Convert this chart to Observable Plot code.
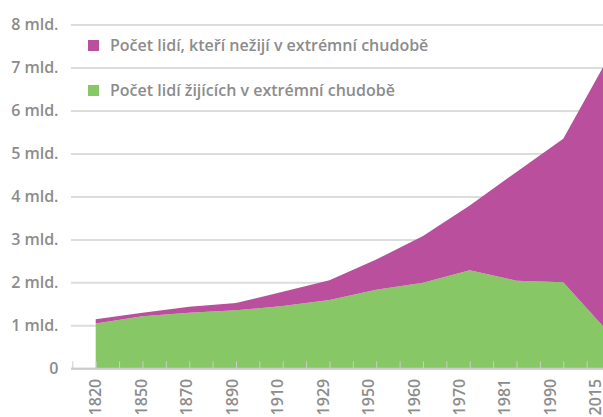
<!DOCTYPE html>
<html>
<head>
<meta charset="utf-8">
<script src="https://cdn.jsdelivr.net/npm/d3@7"></script>
<script src="https://cdn.jsdelivr.net/npm/@observablehq/plot@0.6"></script>
<style>
  html, body { margin: 0; padding: 0; background: white; overflow: hidden; }
  #wrap { position: relative; width: 603px; height: 417px; overflow: hidden; font-family: "Open Sans", sans-serif; }
  #legend { position: absolute; left: 88px; top: 0; }
  .item { position: absolute; left: 0; display: flex; align-items: center; white-space: nowrap; color: #8c8c8c; font-size: 16px; font-weight: 600; }
  .sw { width: 11px; height: 11px; margin-right: 11px; flex: none; }
</style>
</head>
<body>
<div id="wrap"></div>
<script>
const years = ["1820","1850","1870","1890","1910","1929","1950","1960","1970","1981","1990","2015"];
const inPoverty = [1.04, 1.21, 1.29, 1.35, 1.45, 1.59, 1.83, 1.99, 2.28, 2.04, 2.00, 0.80];
const notInPoverty = [0.10, 0.08, 0.14, 0.17, 0.33, 0.46, 0.70, 1.09, 1.51, 2.53, 3.34, 6.50];
const seriesNames = ["Počet lidí žijících v extrémní chudobě", "Počet lidí, kteří nežijí v extrémní chudobě"];
const seriesColors = ["#88c765", "#ba4f9e"];
const yTicks = [0, 1, 2, 3, 4, 5, 6, 7, 8];

const rows = [];
years.forEach((y, i) => {
  rows.push({i, series: seriesNames[0], value: inPoverty[i]});
  rows.push({i, series: seriesNames[1], value: notInPoverty[i]});
});
const halfTicks = d3.range(-0.5, 11, 0.5);
// label spacing in the original is slightly tighter than the category spacing
const labelStep = 0.9723;
const labelTicks = d3.range(12).map(i => i * labelStep);

const chart = Plot.plot({
  width: 603,
  height: 417,
  marginLeft: 71,
  marginRight: 0,
  marginTop: 24,
  marginBottom: 48.7,
  x: {type: "linear", domain: [0, 11], range: [95.7, 610], axis: null, label: null},
  y: {domain: [0, 8], range: [368.3, 24.5], axis: null, label: null},
  color: {domain: seriesNames, range: seriesColors},
  style: {fontFamily: "Open Sans, sans-serif", fontWeight: 600, overflow: "hidden", background: "white"},
  marks: [
    Plot.gridY(yTicks, {stroke: "#dcdcdc", strokeOpacity: 1, strokeWidth: 2}),
    Plot.areaY(rows, {x: "i", y: "value", fill: "series", order: seriesNames, curve: "linear"}),
    Plot.ruleY([0], {stroke: "#cccccc", strokeWidth: 2}),
    Plot.axisX({ticks: halfTicks, tickSize: -7, tickFormat: () => "", label: null, stroke: "#cccccc", strokeOpacity: 1}),
    Plot.axisX({ticks: labelTicks, tickSize: 0, tickRotate: -90, tickPadding: 10, label: null,
      tickFormat: v => years[Math.round(v / labelStep)], fill: "#8c8c8c", fontSize: 16}),
    Plot.axisY({ticks: yTicks, tickSize: 0, tickPadding: 13, label: null,
      tickFormat: d => d === 0 ? "0" : `${d} mld.`, fill: "#8c8c8c", fontSize: 16})
  ]
});

const wrap = document.getElementById("wrap");
wrap.appendChild(chart);
const legend = document.createElement("div");
legend.id = "legend";
const legendOrder = [1, 0];
const centers = [45, 90];
legendOrder.forEach((s, k) => {
  const it = document.createElement("div");
  it.className = "item";
  it.style.top = (centers[k] - 12) + "px";
  it.style.height = "24px";
  const sw = document.createElement("div");
  sw.className = "sw";
  sw.style.background = seriesColors[s];
  const tx = document.createElement("span");
  tx.textContent = seriesNames[s];
  it.appendChild(sw);
  it.appendChild(tx);
  legend.appendChild(it);
});
wrap.appendChild(legend);
</script>
</body>
</html>
